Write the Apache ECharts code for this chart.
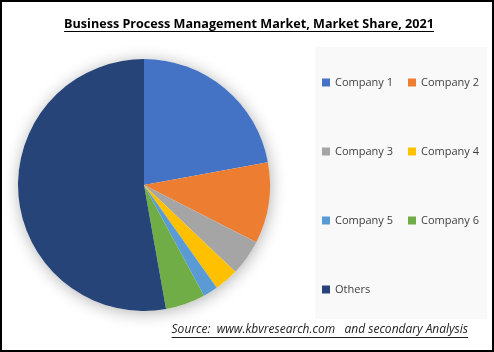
<!DOCTYPE html>
<html>
<head>
<meta charset="utf-8">
<script src="https://cdn.jsdelivr.net/npm/echarts@6/dist/echarts.min.js"></script>
<style>
  html, body { margin: 0; padding: 0; background: #fff; }
  #chart { width: 494px; height: 352px; }
</style>
</head>
<body>
<div id="chart"></div>
<script>
// market share values (%)
var companies = ['Company 1', 'Company 2', 'Company 3', 'Company 4', 'Company 5', 'Company 6', 'Others'];
var shares = [22.1, 10.4, 4.6, 3.1, 1.9, 5.1, 52.8];
var colors = ['#4472C4', '#ED7D31', '#A5A5A5', '#FFC000', '#5B9BD5', '#70AD47', '#264478'];

var titleText = 'Business Process Management Market, Market Share, 2021';
var sourceText = 'Source:  www.kbvresearch.com   and secondary Analysis';

var titleFont = 'bold 12.6px "Open Sans", sans-serif';
var sourceFont = 'italic 12px "Open Sans", sans-serif';

// measure text to draw the underline
function textWidth(txt, font) {
    var ctx = document.createElement('canvas').getContext('2d');
    ctx.font = font;
    return ctx.measureText(txt).width;
}
var tW = textWidth(titleText, titleFont);
var sW = textWidth(sourceText, sourceFont);

var pieData = [];
for (var i = 0; i < companies.length; i++) {
    pieData.push({ name: companies[i], value: shares[i], itemStyle: { color: colors[i] } });
}

var legendText = { fontSize: 11, color: '#404040', fontFamily: '"Open Sans", sans-serif' };

var myChart = echarts.init(document.getElementById('chart'));
var option = {
    backgroundColor: '#ffffff',
    animation: false,
    legend: [
        {
            orient: 'vertical',
            left: 317,
            top: 72,
            itemWidth: 8,
            itemHeight: 8,
            itemGap: 58,
            icon: 'rect',
            textStyle: legendText,
            data: ['Company 1', 'Company 3', 'Company 5', 'Others']
        },
        {
            orient: 'vertical',
            left: 403,
            top: 72,
            itemWidth: 8,
            itemHeight: 8,
            itemGap: 58,
            icon: 'rect',
            textStyle: legendText,
            data: ['Company 2', 'Company 4', 'Company 6']
        }
    ],
    graphic: [
        { type: 'rect', shape: { x: 315, y: 47, width: 172, height: 272 }, style: { fill: '#f9f9f9' }, z: -10 },
        { type: 'text', x: 249, y: 24, style: { text: titleText, font: titleFont, fill: '#000', align: 'center', verticalAlign: 'middle' } },
        { type: 'line', shape: { x1: 249 - tW / 2, y1: 31.5, x2: 249 + tW / 2, y2: 31.5 }, style: { stroke: '#000', lineWidth: 1 } },
        { type: 'text', x: 468 - sW, y: 330, style: { text: sourceText, font: sourceFont, fill: '#222', verticalAlign: 'middle' } },
        { type: 'line', shape: { x1: 468 - sW, y1: 337.5, x2: 468, y2: 337.5 }, style: { stroke: '#222', lineWidth: 1 } },
        { type: 'rect', shape: { x: 1, y: 1, width: 492, height: 350 }, style: { fill: 'none', stroke: '#000', lineWidth: 2 }, z: 100 }
    ],
    series: [
        {
            // shadow backdrop behind the pie
            type: 'pie',
            silent: true,
            center: [144, 185],
            radius: 126,
            label: { show: false },
            labelLine: { show: false },
            data: [{ name: '', value: 1, itemStyle: { color: '#ffffff', shadowBlur: 16, shadowColor: 'rgba(0,0,0,0.3)', shadowOffsetX: 1, shadowOffsetY: 2 } }],
            z: 1
        },
        {
            name: 'Market Share',
            type: 'pie',
            center: [144, 185],
            radius: 126,
            startAngle: 90,
            clockwise: true,
            label: { show: false },
            labelLine: { show: false },
            itemStyle: { borderWidth: 0 },
            data: pieData,
            z: 2
        }
    ]
};
myChart.setOption(option);
</script>
</body>
</html>
